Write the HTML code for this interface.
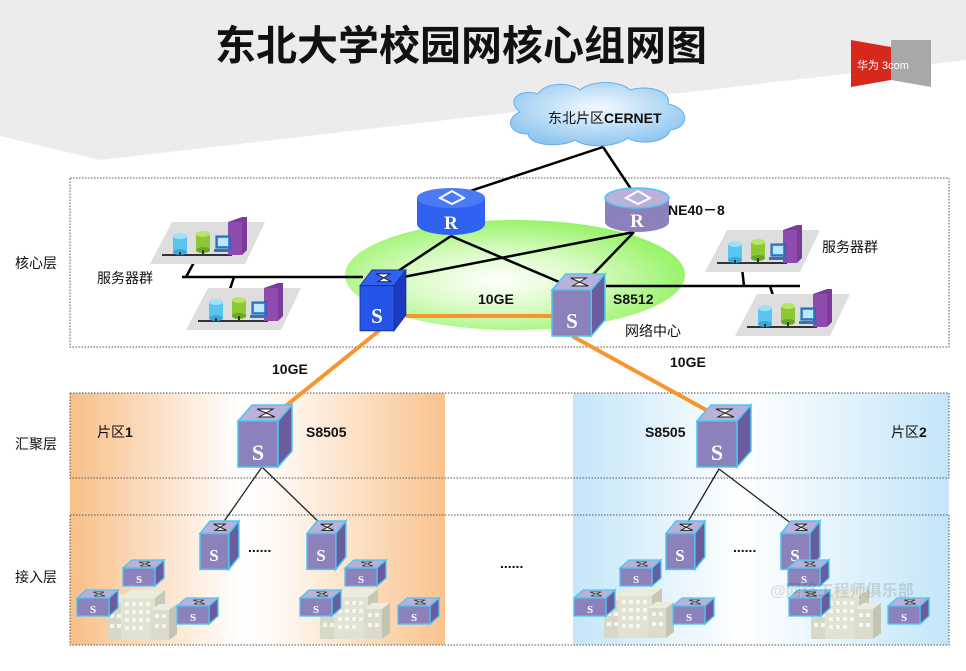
<!DOCTYPE html>
<html><head><meta charset="utf-8"><style>
html,body{margin:0;padding:0;background:#fff;}
svg{display:block;font-family:"Liberation Sans","Noto Sans CJK SC",sans-serif;}
</style></head><body>
<svg width="966" height="671" viewBox="0 0 966 671" xmlns="http://www.w3.org/2000/svg">
<defs>
<linearGradient id="og" x1="0" x2="1" y1="0" y2="0">
<stop offset="0" stop-color="#f8bf88"/><stop offset="0.45" stop-color="#fff"/><stop offset="0.55" stop-color="#fffaf5"/><stop offset="1" stop-color="#f9c38e"/></linearGradient>
<linearGradient id="bg" x1="0" x2="1" y1="0" y2="0">
<stop offset="0" stop-color="#c4e6f9"/><stop offset="0.45" stop-color="#fff"/><stop offset="1" stop-color="#c4e6f9"/></linearGradient>
<radialGradient id="gg" cx="0.45" cy="0.55" r="0.6">
<stop offset="0" stop-color="#fff"/><stop offset="0.45" stop-color="#d9fbc4"/><stop offset="1" stop-color="#8ef25c"/></radialGradient>
<radialGradient id="cg" cx="0.5" cy="0.4" r="0.6">
<stop offset="0" stop-color="#f4faff"/><stop offset="1" stop-color="#8fc6f0"/></radialGradient>
<g id="cube">
<polygon points="0,16 14,0 54,0 40,16" fill="#b9b1d9" stroke="#4cc6f2" stroke-width="1.5" vector-effect="non-scaling-stroke"/>
<polygon points="40,16 54,0 54,46 40,62" fill="#6b5c9d" stroke="#4cc6f2" stroke-width="1.5" vector-effect="non-scaling-stroke"/>
<rect x="0" y="16" width="40" height="46" fill="#8c81bb" stroke="#4cc6f2" stroke-width="1.5" vector-effect="non-scaling-stroke"/>
<path d="M19,4 L35,4 L21,12 L37,12 Z" fill="#fff" stroke="#222" stroke-width="1" vector-effect="non-scaling-stroke"/>
</g>
<g id="bcube">
<polygon points="0,16 14,0 54,0 40,16" fill="#2f62f0" stroke="#1a2fa0" stroke-width="1"/>
<polygon points="40,16 54,0 54,46 40,62" fill="#1a3bc0" stroke="#1a2fa0" stroke-width="1"/>
<rect x="0" y="16" width="40" height="46" fill="#2356e8" stroke="#1a2fa0" stroke-width="1"/>
<path d="M19,4 L35,4 L21,12 L37,12 Z" fill="#fff" stroke="#222" stroke-width="1"/>
</g>
<g id="sw">
<polygon points="0,8 9,0 41,0 32,8" fill="#b9b1d9" stroke="#4cc6f2" stroke-width="1.3"/>
<polygon points="32,8 41,0 41,18 32,26" fill="#6b5c9d" stroke="#4cc6f2" stroke-width="1.3"/>
<rect x="0" y="8" width="32" height="18" fill="#8c81bb" stroke="#4cc6f2" stroke-width="1.3"/>
<path d="M16,2 L27,2 L17,6 L28,6 Z" fill="#fff" stroke="#333" stroke-width="0.7"/>
</g>
<g id="bld">
<polygon points="0,12 12,4 30,4 18,12" fill="#e8e8dc"/>
<rect x="0" y="12" width="18" height="38" fill="#d8d8c8"/>
<polygon points="14,8 24,0 58,0 48,8" fill="#ececde"/>
<rect x="14" y="8" width="34" height="42" fill="#e2e2d2"/>
<polygon points="48,8 58,0 58,42 48,50" fill="#c8c8b6"/>
<polygon points="44,20 52,14 70,14 62,20" fill="#ececde"/>
<rect x="44" y="20" width="18" height="30" fill="#dcdccc"/>
<polygon points="62,20 70,14 70,44 62,50" fill="#c4c4b2"/>
<g fill="#f6f6ee"><rect x="18" y="12" width="4" height="4"/><rect x="25" y="12" width="4" height="4"/><rect x="32" y="12" width="4" height="4"/><rect x="39" y="12" width="4" height="4"/>
<rect x="18" y="20" width="4" height="4"/><rect x="25" y="20" width="4" height="4"/><rect x="32" y="20" width="4" height="4"/><rect x="39" y="20" width="4" height="4"/>
<rect x="18" y="28" width="4" height="4"/><rect x="25" y="28" width="4" height="4"/><rect x="32" y="28" width="4" height="4"/><rect x="39" y="28" width="4" height="4"/>
<rect x="18" y="36" width="4" height="4"/><rect x="25" y="36" width="4" height="4"/><rect x="32" y="36" width="4" height="4"/>
<rect x="3" y="24" width="4" height="4"/><rect x="10" y="24" width="4" height="4"/><rect x="3" y="34" width="4" height="4"/><rect x="10" y="34" width="4" height="4"/>
<rect x="48" y="24" width="4" height="4"/><rect x="55" y="24" width="4" height="4"/><rect x="48" y="34" width="4" height="4"/><rect x="55" y="34" width="4" height="4"/></g>
</g>
<g id="srv">
<polygon points="22,0 115,0 95,42 0,42" fill="#dedede"/>
<line x1="12" y1="33" x2="82" y2="33" stroke="#333" stroke-width="2"/>
<rect x="23" y="14" width="14" height="16" fill="#5ac6ef"/><ellipse cx="30" cy="14" rx="7" ry="3" fill="#9ee0f8"/><ellipse cx="30" cy="30" rx="7" ry="3" fill="#3aa8d8"/>
<rect x="46" y="12" width="14" height="16" fill="#8bc833"/><ellipse cx="53" cy="12" rx="7" ry="3" fill="#b7e36a"/><ellipse cx="53" cy="28" rx="7" ry="3" fill="#6aa822"/>
<polygon points="78,0 92,-5 97,-5 97,28 92,33 78,33" fill="#7a3c98"/><rect x="78" y="0" width="14" height="33" fill="#8e4cae"/>
<rect x="66" y="14" width="14" height="12" fill="#3b8fd8" stroke="#1c5aa0" stroke-width="1"/><rect x="68" y="16" width="10" height="8" fill="#bfe6ff"/><rect x="64" y="27" width="18" height="3" fill="#2f74c0"/>
<line x1="30" y1="30" x2="30" y2="33" stroke="#333" stroke-width="2"/><line x1="53" y1="28" x2="53" y2="33" stroke="#333" stroke-width="2"/>
</g>
</defs>

<!-- background band -->
<polygon points="0,0 966,0 966,60 100,160 0,136" fill="#ececec"/>
<text x="461" y="60" text-anchor="middle" font-size="41" font-weight="bold" fill="#111">东北大学校园网核心组网图</text>
<!-- logo -->
<polygon points="891,40 931,40 931,87 891,80" fill="#a8a8a8"/>
<polygon points="851,40 891,47 891,80 851,87" fill="#d8281e"/>
<text x="857" y="69" font-size="11" fill="#fff">华为 3com</text>

<!-- panels -->
<rect x="70" y="393" width="375" height="252" fill="url(#og)"/>
<rect x="573" y="393" width="376" height="252" fill="url(#bg)"/>
<g fill="none" stroke="#555" stroke-width="1" stroke-dasharray="1.5,1.5">
<rect x="70" y="178" width="879" height="169"/>
<rect x="70" y="393" width="879" height="85"/>
<rect x="70" y="515" width="879" height="130"/>
</g>
<text x="15" y="268" font-size="14" fill="#111">核心层</text>
<text x="15" y="449" font-size="14" fill="#111">汇聚层</text>
<text x="15" y="582" font-size="14" fill="#111">接入层</text>

<!-- cloud -->
<g fill="url(#cg)" stroke="#6aaee6" stroke-width="1">
<path d="M520,112 C505,100 520,88 538,94 C545,82 570,82 580,90 C592,80 620,80 630,90 C650,84 672,92 668,104 C690,108 690,128 670,130 C668,142 640,146 628,138 C615,148 585,148 575,140 C560,148 530,146 528,134 C508,134 505,118 520,112 Z"/>
</g>
<text x="548" y="123" font-size="14" fill="#111">东北片区<tspan font-weight="bold">CERNET</tspan></text>

<!-- green area -->
<ellipse cx="515" cy="275" rx="170" ry="55" fill="url(#gg)"/>

<!-- lines -->
<g stroke="#000" stroke-width="2.5" fill="none">
<line x1="603" y1="147" x2="443" y2="200"/>
<line x1="603" y1="147" x2="635" y2="195"/>
<line x1="451" y1="236" x2="383" y2="281"/>
<line x1="451" y1="236" x2="578" y2="290"/>
<line x1="634" y1="232" x2="383" y2="281"/>
<line x1="634" y1="232" x2="578" y2="290"/>
<line x1="182" y1="277" x2="363" y2="277"/>
<line x1="606" y1="286" x2="800" y2="286"/>
<line x1="186" y1="277" x2="198" y2="255"/>
<line x1="234" y1="277" x2="228" y2="295"/>
<line x1="744" y1="286" x2="742" y2="268"/>
<line x1="770" y1="286" x2="776" y2="305"/>
</g>
<g stroke="#f7962e" stroke-width="4">
<line x1="406" y1="316" x2="552" y2="316"/>
<line x1="380" y1="330" x2="262" y2="425"/>
<line x1="572" y1="336" x2="728" y2="422"/>
</g>
<g stroke="#222" stroke-width="1.3">
<line x1="262" y1="467" x2="218" y2="530"/>
<line x1="262" y1="467" x2="327" y2="530"/>
<line x1="719" y1="469" x2="683" y2="530"/>
<line x1="719" y1="469" x2="800" y2="530"/>
</g>

<!-- servers -->
<use href="#srv" x="150" y="222"/>
<use href="#srv" x="186" y="288"/>
<use href="#srv" x="705" y="230"/>
<use href="#srv" x="735" y="294"/>

<!-- routers -->
<g>
<rect x="417" y="198" width="68" height="26" fill="#2f62f0"/>
<ellipse cx="451" cy="224" rx="34" ry="11" fill="#2f62f0"/>
<ellipse cx="451" cy="198" rx="34" ry="10" fill="#4a7af8"/>
<polygon points="440,198 452,191 464,198 452,204" fill="none" stroke="#fff" stroke-width="2"/>
<text x="451" y="229" text-anchor="middle" font-family="Liberation Serif,serif" font-weight="bold" font-size="19" fill="#fff">R</text>
</g>
<g>
<rect x="605" y="198" width="64" height="24" fill="#8c81bb"/>
<ellipse cx="637" cy="222" rx="32" ry="10" fill="#8c81bb"/>
<ellipse cx="637" cy="198" rx="32" ry="10" fill="#b9b1d9" stroke="#4cc6f2" stroke-width="1.5"/>
<polygon points="626,198 638,191 650,198 638,204" fill="none" stroke="#fff" stroke-width="2"/>
<text x="637" y="227" text-anchor="middle" font-family="Liberation Serif,serif" font-weight="bold" font-size="19" fill="#fff">R</text>
</g>

<!-- core switches -->
<use href="#bcube" transform="translate(360,270) scale(0.85,0.98)"/>
<text x="377" y="323" text-anchor="middle" font-family="Liberation Serif,serif" font-weight="bold" font-size="21" fill="#fff">S</text>
<use href="#cube" transform="translate(552,274) scale(0.98,1)"/>
<text x="572" y="328" text-anchor="middle" font-family="Liberation Serif,serif" font-weight="bold" font-size="21" fill="#fff">S</text>

<!-- agg switches -->
<use href="#cube" x="238" y="405"/>
<text x="258" y="460" text-anchor="middle" font-family="Liberation Serif,serif" font-weight="bold" font-size="22" fill="#fff">S</text>
<use href="#cube" x="697" y="405"/>
<text x="717" y="460" text-anchor="middle" font-family="Liberation Serif,serif" font-weight="bold" font-size="22" fill="#fff">S</text>

<!-- access switches -->
<g font-family="Liberation Serif,serif" font-weight="bold" font-size="17" fill="#fff" text-anchor="middle">
<use href="#cube" transform="translate(200,521) scale(0.72,0.78)"/><text x="214" y="561">S</text>
<use href="#cube" transform="translate(307,521) scale(0.72,0.78)"/><text x="321" y="561">S</text>
<use href="#cube" transform="translate(666,521) scale(0.72,0.78)"/><text x="680" y="561">S</text>
<use href="#cube" transform="translate(781,521) scale(0.72,0.78)"/><text x="795" y="561">S</text>
</g>

<!-- buildings -->
<use href="#bld" x="107" y="590"/>
<use href="#bld" x="320" y="589"/>
<use href="#bld" x="604" y="588"/>
<use href="#bld" x="811" y="589"/>

<!-- small switches -->
<g font-family="Liberation Serif,serif" font-weight="bold" font-size="11" fill="#fff" text-anchor="middle">
<use href="#sw" x="123" y="560"/><text x="139" y="583">S</text>
<use href="#sw" x="77" y="590"/><text x="93" y="613">S</text>
<use href="#sw" x="177" y="598"/><text x="193" y="621">S</text>
<use href="#sw" x="300" y="590"/><text x="316" y="613">S</text>
<use href="#sw" x="345" y="560"/><text x="361" y="583">S</text>
<use href="#sw" x="398" y="598"/><text x="414" y="621">S</text>
<use href="#sw" x="574" y="590"/><text x="590" y="613">S</text>
<use href="#sw" x="620" y="560"/><text x="636" y="583">S</text>
<use href="#sw" x="673" y="598"/><text x="689" y="621">S</text>
<use href="#sw" x="788" y="560"/><text x="804" y="583">S</text>
<use href="#sw" x="789" y="590"/><text x="805" y="613">S</text>
<use href="#sw" x="888" y="598"/><text x="904" y="621">S</text>
</g>

<!-- labels -->
<g font-size="14" fill="#111">
<text x="97" y="283">服务器群</text>
<text x="822" y="252">服务器群</text>
<text x="668" y="215" font-weight="bold">NE40－8</text>
<text x="478" y="304" font-weight="bold">10GE</text>
<text x="613" y="304" font-weight="bold">S8512</text>
<text x="625" y="336">网络中心</text>
<text x="272" y="374" font-weight="bold">10GE</text>
<text x="670" y="367" font-weight="bold">10GE</text>
<text x="97" y="437">片区<tspan font-weight="bold">1</tspan></text>
<text x="306" y="437" font-weight="bold">S8505</text>
<text x="645" y="437" font-weight="bold">S8505</text>
<text x="891" y="437">片区<tspan font-weight="bold">2</tspan></text>
<text x="248" y="552" font-weight="bold">......</text>
<text x="500" y="568" font-weight="bold">......</text>
<text x="733" y="552" font-weight="bold">......</text>
</g>
<text x="770" y="596" font-size="16" font-weight="bold" fill="#000" fill-opacity="0.12">@网络工程师俱乐部</text>
</svg>
</body></html>
